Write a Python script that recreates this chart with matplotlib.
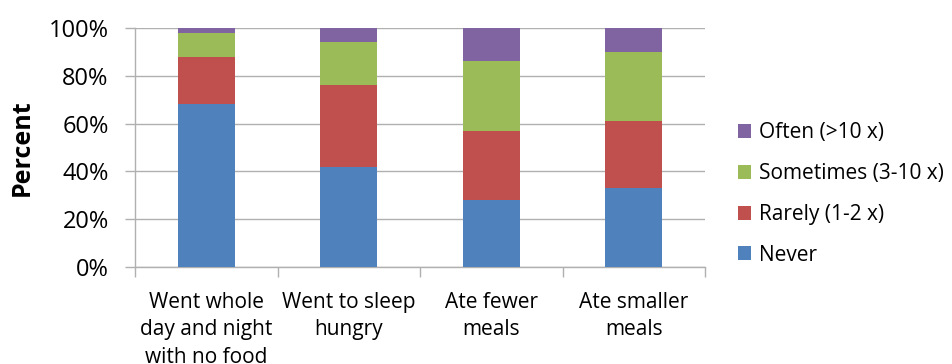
import numpy as np
import matplotlib.pyplot as plt
from matplotlib.ticker import FuncFormatter, FixedLocator

plt.rcParams['font.family'] = ['Open Sans', 'DejaVu Sans']

# survey answers, share of respondents per category (percent)
categories = ["Went whole\nday and night\nwith no food", "Went to sleep\nhungry",
              "Ate fewer\nmeals", "Ate smaller\nmeals"]
never = [68, 42, 28, 33]
rarely = [20, 34, 29, 28]
sometimes = [10, 18, 29, 29]
often = [2, 6, 14, 10]

series = [("Never", never, "#4F81BD"),
          ("Rarely (1-2 x)", rarely, "#C0504D"),
          ("Sometimes (3-10 x)", sometimes, "#9BBB59"),
          ("Often (>10 x)", often, "#8064A2")]

fig = plt.figure(figsize=(9.53, 3.64), dpi=100)
ax = fig.add_axes([0.1417, 0.2665, 0.5981, 0.6565])

x = np.arange(len(categories))
bottom = np.zeros(len(categories))
for name, vals, col in series:
    ax.bar(x, vals, 0.4, bottom=bottom, color=col, label=name, zorder=3)
    bottom += np.array(vals)

ax.set_xlim(-0.5, len(categories) - 0.5)
ax.set_ylim(0, 100)
ax.set_yticks(range(0, 101, 20))
ax.yaxis.set_major_formatter(FuncFormatter(lambda v, p: "%d%%" % v))
ax.grid(axis="y", color="#b0b0b0", linewidth=1.0, zorder=0)
ax.tick_params(axis="y", length=7, width=1.0, color="#b0b0b0", labelsize=17, pad=12)

# category labels in the middle, tick marks on the category boundaries
ax.set_xticks(x)
ax.set_xticklabels(categories, fontsize=15, linespacing=1.4)
ax.tick_params(axis="x", which="major", length=0, pad=18)
ax.xaxis.set_minor_locator(FixedLocator(np.arange(-0.5, len(categories), 1.0)))
ax.tick_params(axis="x", which="minor", length=7, width=1.0, color="#b0b0b0")

for s in ["top", "right"]:
    ax.spines[s].set_visible(False)
for s in ["left", "bottom"]:
    ax.spines[s].set_color("#b0b0b0")
    ax.spines[s].set_linewidth(1.0)

ax.set_ylabel("Percent", fontsize=18, fontweight="bold")
ax.yaxis.set_label_coords(-0.176, 0.5)

handles, labels = ax.get_legend_handles_labels()
fig.legend(handles[::-1], labels[::-1], loc="center left",
           bbox_to_anchor=(0.763, 0.467), frameon=False, fontsize=15,
           handlelength=0.66, handleheight=0.66, handletextpad=0.35,
           labelspacing=0.95, borderpad=0)

fig.savefig("out.png", dpi=100)
